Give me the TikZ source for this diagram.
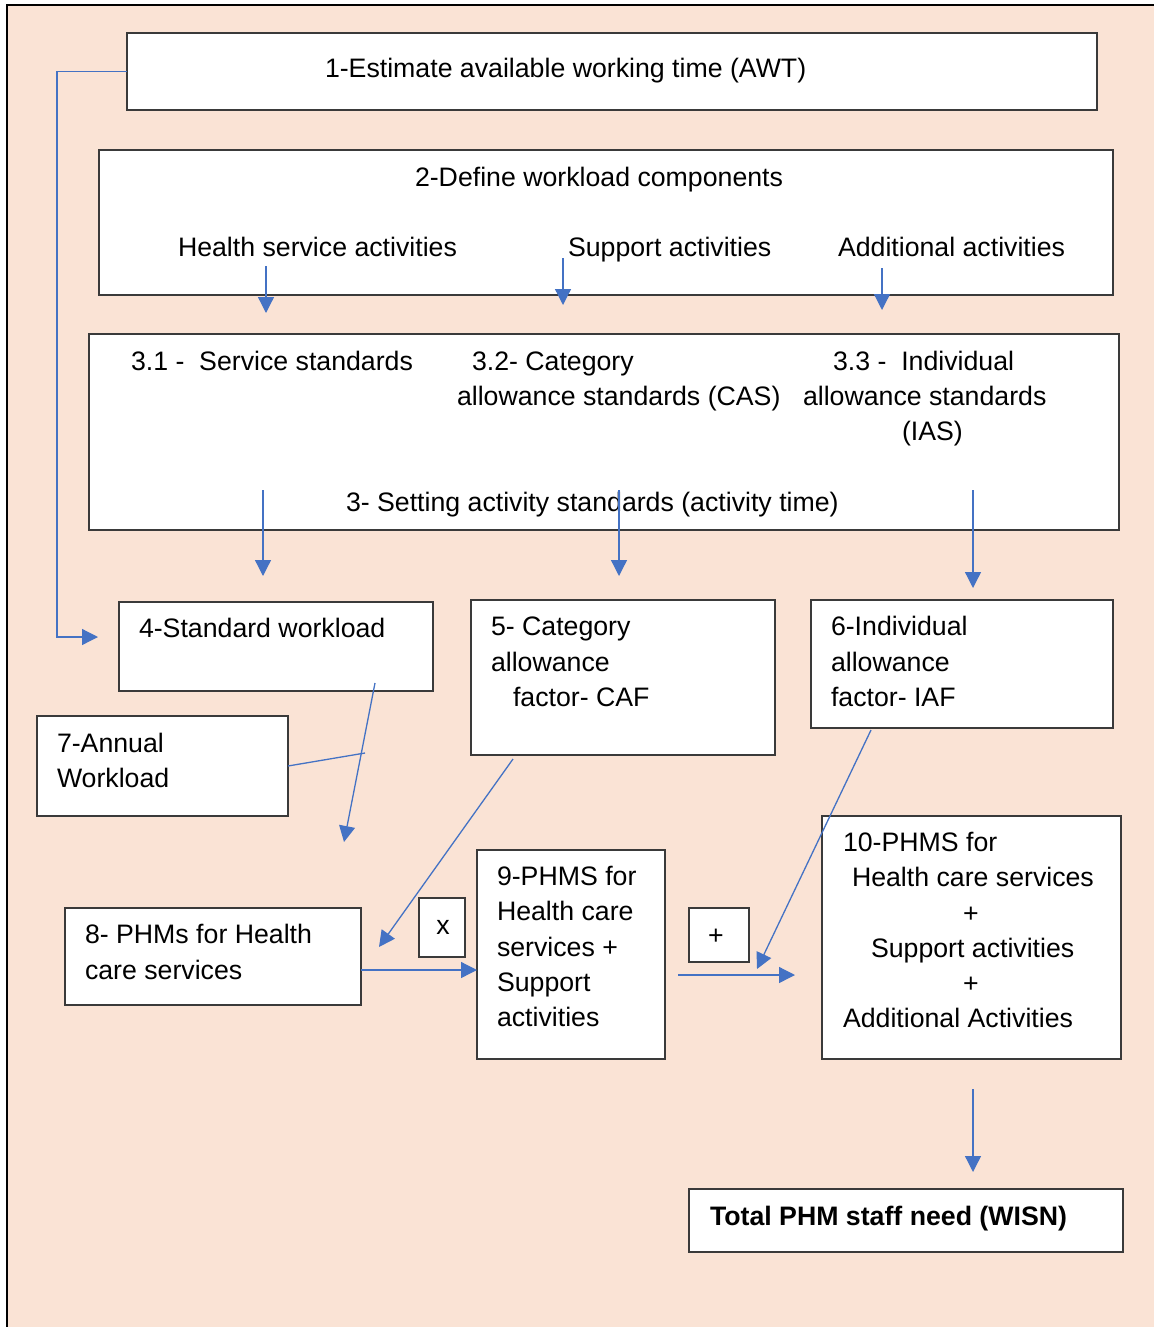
\documentclass[tikz,border=0pt]{standalone}
\usepackage{fontspec}
\setmainfont{Liberation Sans}
\usetikzlibrary{arrows.meta,fit}
\definecolor{peach}{HTML}{FAE3D5}
\definecolor{arrowblue}{HTML}{4472C4}
\definecolor{boxgray}{HTML}{3A3A3A}
\begin{document}
\begin{tikzpicture}[x=0.5pt,y=-0.5pt,
  box/.style={draw=boxgray, line width=0.75pt, fill=white, inner sep=0pt, outer sep=0pt},
  txt/.style={anchor=base west, inner sep=0pt, outer sep=0pt, font=\fontsize{13.35}{17.6}\selectfont},
  ctxt/.style={anchor=base, inner sep=0pt, outer sep=0pt, font=\fontsize{13.35}{17.6}\selectfont},
  arr/.style={draw=arrowblue, line width=0.65pt, -{Triangle[length=8pt,width=8pt]}},
  plain/.style={draw=arrowblue, line width=0.65pt}]
\useasboundingbox (0,0) rectangle (1154,1327);
\fill[peach] (7,5) rectangle (1154,1327);
\draw[black, line width=1.25pt] (7,1327) -- (7,5) -- (1154,5);

% boxes
\node[box, fit={(127,33)(1097,110)}] (b1) {};
\node[box, fit={(99,150)(1113,295)}] (b2) {};
\node[box, fit={(89,334)(1119,530)}] (b3) {};
\node[box, fit={(119,602)(433,691)}] (b4) {};
\node[box, fit={(471,600)(775,755)}] (b5) {};
\node[box, fit={(811,600)(1113,728)}] (b6) {};
\node[box, fit={(37,716)(288,816)}] (b7) {};
\node[box, fit={(65,908)(361,1005)}] (b8) {};
\node[box, fit={(419,898)(465,957)}] (bx) {};
\node[box, fit={(477,850)(665,1059)}] (b9) {};
\node[box, fit={(689,908)(749,962)}] (bp) {};
\node[box, fit={(822,816)(1121,1059)}] (b10) {};
\node[box, fit={(689,1189)(1123,1252)}] (bt) {};

% texts
\node[txt] (t1) at (325,78) {1-Estimate available working time (AWT)};
\node[txt] (t2) at (415,186) {2-Define workload components};
\node[txt] (t2a) at (178,256) {Health service activities};
\node[txt] (t2b) at (568,256) {Support activities};
\node[txt] (t2c) at (838,256) {Additional activities};
\node[txt] (t31) at (131,370) {3.1 -~~Service standards};
\node[txt] (t32a) at (472,370) {3.2- Category};
\node[txt] (t32b) at (457,405) {allowance standards (CAS)};
\node[txt] (t33a) at (833,370) {3.3 -~~Individual};
\node[txt] (t33b) at (803,405) {allowance standards};
\node[txt] (t33c) at (902,440) {(IAS)};
\node[txt] (t3) at (346,511) {3- Setting activity standards (activity time)};
\node[txt] (t4) at (139,637) {4-Standard workload};
\node[txt] (t5a) at (491,635) {5- Category};
\node[txt] (t5b) at (491,671) {allowance};
\node[txt] (t5c) at (513,706) {factor- CAF};
\node[txt] (t6a) at (831,635) {6-Individual};
\node[txt] (t6b) at (831,671) {allowance};
\node[txt] (t6c) at (831,706) {factor- IAF};
\node[txt] (t7a) at (57,752) {7-Annual};
\node[txt] (t7b) at (57,787) {Workload};
\node[txt] (t8a) at (85,943) {8- PHMs for Health};
\node[txt] (t8b) at (85,979) {care services};
\node[ctxt] (tx) at (443,934) {x};
\node[txt] (t9a) at (497,885) {9-PHMS for};
\node[txt] (t9b) at (497,920) {Health care};
\node[txt] (t9c) at (497,956) {services +};
\node[txt] (t9d) at (497,991) {Support};
\node[txt] (t9e) at (497,1026) {activities};
\node[ctxt] (tp) at (716,944) {+};
\node[txt] (t10a) at (843,851) {10-PHMS for};
\node[txt] (t10b) at (852,886) {Health care services};
\node[ctxt] (t10c) at (971,922) {+};
\node[txt] (t10d) at (871,957) {Support activities};
\node[ctxt] (t10e) at (971,992) {+};
\node[txt] (t10f) at (843,1027) {Additional Activities};
\node[txt, font=\fontsize{13.35}{17.6}\selectfont\bfseries] (tt) at (710,1225) {Total PHM staff need (WISN)};

% connector end points
\coordinate (c1a) at (57,71.5);
\coordinate (c1b) at (57,637);
\coordinate (c1e) at (98,637);
\coordinate (c2s) at (266,266); \coordinate (c2e) at (266,313);
\coordinate (c3s) at (563,258); \coordinate (c3e) at (563,305);
\coordinate (c4s) at (882,268); \coordinate (c4e) at (882,310);
\coordinate (c5s) at (263,490); \coordinate (c5e) at (263,576);
\coordinate (c6s) at (619,490); \coordinate (c6e) at (619,576);
\coordinate (c7s) at (973,490); \coordinate (c7e) at (973,588);
\coordinate (c8e) at (365,753);
\coordinate (c9s) at (375,683); \coordinate (c9e) at (344,842);
\coordinate (c10s) at (513,759); \coordinate (c10e) at (379,947);
\coordinate (c12s) at (678,975); \coordinate (c12e) at (795,975);
\coordinate (c13s) at (871,730); \coordinate (c13e) at (757,969);
\coordinate (c14s) at (973,1089); \coordinate (c14e) at (973,1172);

% connectors
\draw[arr] (b1.west) -- (c1a) -- (c1b) -- (c1e);
\draw[arr] (c2s) -- (c2e);
\draw[arr] (c3s) -- (c3e);
\draw[arr] (c4s) -- (c4e);
\draw[arr] (c5s) -- (c5e);
\draw[arr] (c6s) -- (c6e);
\draw[arr] (c7s) -- (c7e);
\draw[plain] (b7.east |- 0,766) -- (c8e);
\draw[arr] (c9s) -- (c9e);
\draw[arr] (c10s) -- (c10e);
\draw[arr] (b8.east |- 0,970) -- (b9.west |- 0,970);
\draw[arr] (c12s) -- (c12e);
\draw[arr] (c13s) -- (c13e);
\draw[arr] (c14s) -- (c14e);
\end{tikzpicture}
\end{document}
